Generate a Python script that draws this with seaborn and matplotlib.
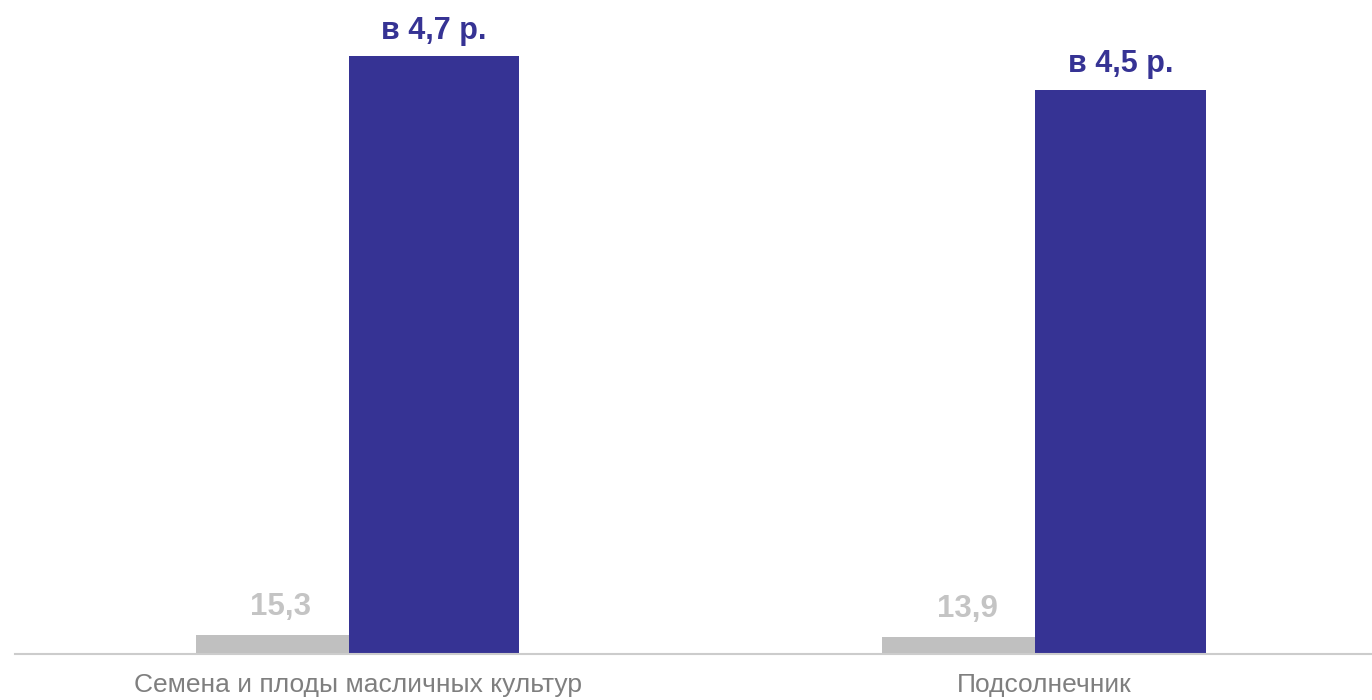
import matplotlib
matplotlib.use("Agg")
import matplotlib.pyplot as plt
import seaborn as sns
import pandas as pd

categories = ["Семена и плоды масличных культур", "Подсолнечник"]
series_names = ["Базовый период", "Текущий период"]
base_values = [15.3, 13.9]
current_values = [480, 453]
base_labels = ["15,3", "13,9"]
ratio_labels = ["в 4,7 р.", "в 4,5 р."]

GREY = "#c0c0c0"
BLUE = "#363394"
LABEL_GREY = "#c4c4c4"
TICK_GREY = "#7f7f7f"

sns.set_theme(style="white")
plt.rcParams["font.family"] = ["Liberation Sans", "DejaVu Sans"]

df = pd.DataFrame({
    "cat": categories * 2,
    "series": [series_names[0]] * len(categories) + [series_names[1]] * len(categories),
    "value": base_values + current_values,
})

fig = plt.figure(figsize=(13.72, 7.0), dpi=100)
ax = fig.add_axes([15 / 1372, 46 / 700, 1 - 15 / 1372, 654 / 700])

sns.barplot(data=df, x="cat", y="value", hue="series", palette=[GREY, BLUE],
            order=categories, hue_order=series_names, dodge=True, width=0.47,
            saturation=1, legend=False, ax=ax, edgecolor="none", linewidth=0)

bars = [p for p in ax.patches if p.get_height() > 0]
n = len(categories)
grey_bars = bars[:n]
blue_bars = bars[n:]
for i, p in enumerate(grey_bars):
    p.set_x(i - 0.237)
    p.set_width(0.223)
for i, p in enumerate(blue_bars):
    p.set_x(i - 0.014)
    p.set_width(0.249)

for p, lab in zip(grey_bars, base_labels):
    ax.annotate(lab, (p.get_x() + p.get_width() / 2 + 0.013, p.get_height()),
                xytext=(0, 14.5), textcoords="offset points", ha="center", va="baseline",
                fontsize=22.5, fontweight="bold", color=LABEL_GREY)
for p, lab in zip(blue_bars, ratio_labels):
    ax.annotate(lab, (p.get_x() + p.get_width() / 2, p.get_height()),
                xytext=(0, 12.5), textcoords="offset points", ha="center", va="baseline",
                fontsize=22, fontweight="bold", color=BLUE)

ax.set_xlim(-0.5, 1.477)
ax.set_ylim(0, 525)
ax.set_xlabel("")
ax.set_ylabel("")
ax.set_yticks([])
ax.tick_params(axis="x", length=0, pad=14, labelsize=19, labelcolor=TICK_GREY)
for s in ["top", "right", "left"]:
    ax.spines[s].set_visible(False)
ax.spines["bottom"].set_color("#cccccc")
ax.spines["bottom"].set_linewidth(1.5)
ax.patch.set_alpha(0)

fig.savefig("out.png", dpi=100, facecolor="white")
